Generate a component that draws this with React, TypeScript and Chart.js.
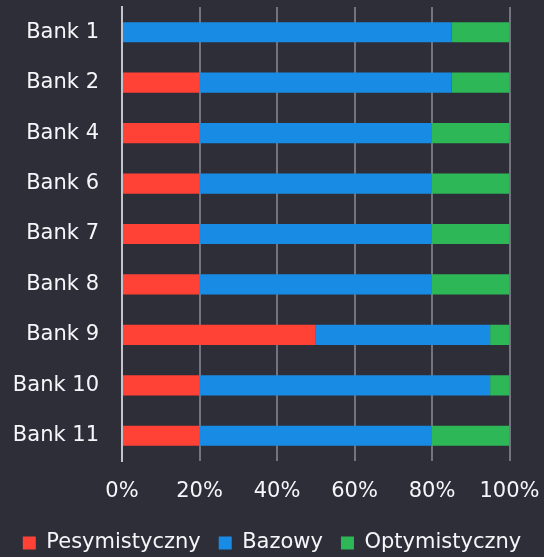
import React, { useEffect, useRef } from "react";
import { Chart, registerables } from "chart.js";

Chart.register(...registerables);

const categories = ["Bank 1", "Bank 2", "Bank 4", "Bank 6", "Bank 7", "Bank 8", "Bank 9", "Bank 10", "Bank 11"];
const pesymistyczny = [0, 20, 20, 20, 20, 20, 50, 20, 20];
const bazowy = [85, 65, 60, 60, 60, 60, 45, 75, 60];
const optymistyczny = [15, 15, 20, 20, 20, 20, 5, 5, 20];
const xTicks = [0, 20, 40, 60, 80, 100];

const BG = "#2e2e38";
const TEXT = "#f6f6fa";
const FONT = "DejaVu Sans";

export default function App() {
  const ref = useRef<HTMLCanvasElement | null>(null);

  useEffect(() => {
    if (!ref.current) return;
    const chart = new Chart(ref.current, {
      type: "bar",
      data: {
        labels: categories,
        datasets: [
          { label: "Pesymistyczny", data: pesymistyczny, backgroundColor: "#ff4136" },
          { label: "Bazowy", data: bazowy, backgroundColor: "#188ce5" },
          { label: "Optymistyczny", data: optymistyczny, backgroundColor: "#2db757" },
        ],
      },
      options: {
        indexAxis: "y",
        animation: false,
        responsive: true,
        maintainAspectRatio: false,
        layout: { padding: { top: 7, right: 0, left: 0, bottom: -6.5 } },
        datasets: { bar: { barPercentage: 0.5, categoryPercentage: 0.8 } },
        scales: {
          x: {
            stacked: true,
            min: 0,
            max: 100,
            afterBuildTicks: (scale: any) => {
              scale.ticks = xTicks.map((v) => ({ value: v }));
            },
            afterFit: (scale: any) => {
              scale.height = 53.5;
              scale.paddingRight = 34.5;
            },
            ticks: {
              color: TEXT,
              font: { family: FONT, size: 21 },
              padding: 18,
              callback: (v: any) => v + "%",
            },
            grid: { color: "#747480", lineWidth: 2, drawTicks: false },
            border: { display: false },
          },
          y: {
            stacked: true,
            afterFit: (scale: any) => {
              scale.width = 122;
              scale.paddingTop = 0;
              scale.paddingBottom = 0;
            },
            ticks: {
              color: TEXT,
              font: { family: FONT, size: 21 },
              padding: 23,
            },
            grid: { display: false, drawTicks: false },
            border: { display: true, color: "#c4c4cd", width: 2 },
          },
        },
        plugins: {
          legend: {
            position: "bottom",
            labels: {
              color: TEXT,
              font: { family: FONT, size: 21 },
              boxWidth: 13,
              boxHeight: 13,
              padding: 18,
            },
          },
          tooltip: { enabled: false },
        },
      },
    });
    return () => chart.destroy();
  }, []);

  return (
    <div
      style={{
        position: "fixed",
        left: 0,
        top: 0,
        width: 544,
        height: 557,
        background: BG,
      }}
    >
      <canvas ref={ref} />
    </div>
  );
}
